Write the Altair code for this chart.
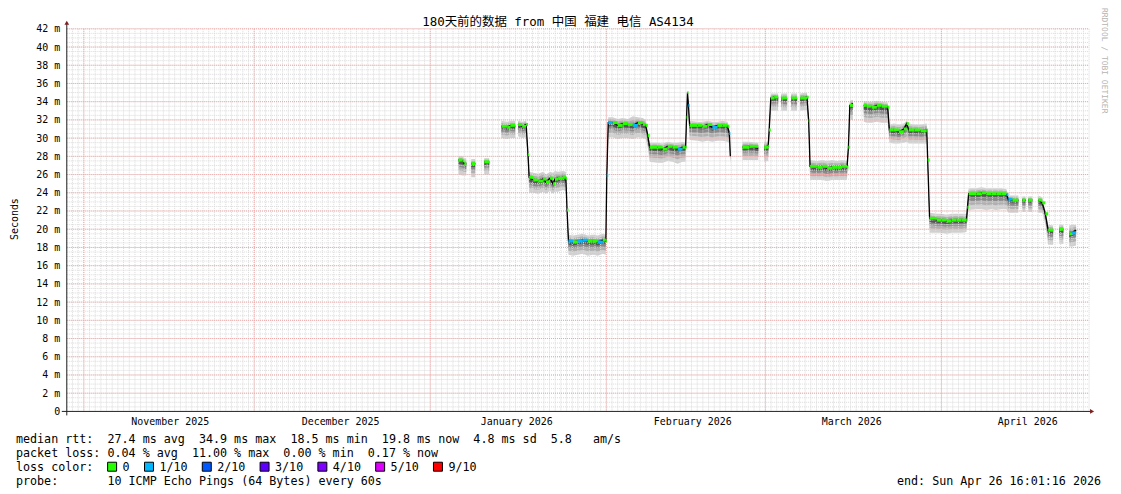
import altair as alt
import pandas as pd

MONO = "DejaVu Sans Mono"
TITLE_FONT = "DejaVu Sans Mono, Noto Sans CJK SC"

# ---------------- texts ----------------
title_text = "180天前的数据 from 中国 福建 电信 AS4134"
y_title = "Seconds"
credit = "RRDTOOL / TOBI OETIKER"
stats_lines = [
    "median rtt:  27.4 ms avg  34.9 ms max  18.5 ms min  19.8 ms now  4.8 ms sd  5.8   am/s",
    "packet loss: 0.04 % avg  11.00 % max  0.00 % min  0.17 % now",
]
loss_title = "loss color:"
probe_line = "probe:       10 ICMP Echo Pings (64 Bytes) every 60s"
end_line = "end: Sun Apr 26 16:01:16 2026"

loss_labels = ["0", "1/10", "2/10", "3/10", "4/10", "5/10", "9/10"]
loss_colors = ["#26ff00", "#00b8ff", "#0059ff", "#5e00ff", "#7e00ff", "#dd00ff", "#ff0000"]

y_ticks = list(range(0, 43, 2))
month_label_months = [(2025, 11), (2025, 12), (2026, 1), (2026, 2), (2026, 3), (2026, 4)]

# ---------------- series ----------------
times = [
    "2026-01-05T23", "2026-01-06T16", "2026-01-07T00", "2026-01-07T08",
    "2026-01-08T05", "2026-01-08T22",
    "2026-01-10T12", "2026-01-11T09",
    "2026-01-13T12", "2026-01-14T13", "2026-01-15T02", "2026-01-15T23",
    "2026-01-16T11", "2026-01-17T04", "2026-01-17T21", "2026-01-18T05", "2026-01-18T10",
    "2026-01-19T03", "2026-01-20T00", "2026-01-20T21", "2026-01-21T09", "2026-01-22T02",
    "2026-01-22T15", "2026-01-22T23", "2026-01-23T12", "2026-01-24T09", "2026-01-24T21",
    "2026-01-25T02", "2026-01-25T08", "2026-01-26T03", "2026-01-27T00", "2026-01-27T21",
    "2026-01-28T18", "2026-01-29T15", "2026-01-30T12", "2026-01-31T09", "2026-01-31T22",
    "2026-02-01T02", "2026-02-01T08", "2026-02-02T03", "2026-02-03T00", "2026-02-03T21",
    "2026-02-04T19", "2026-02-05T16", "2026-02-06T13", "2026-02-07T10", "2026-02-07T22",
    "2026-02-08T07", "2026-02-08T15", "2026-02-10T01", "2026-02-10T22", "2026-02-11T19",
    "2026-02-12T16", "2026-02-13T13", "2026-02-14T10", "2026-02-14T23", "2026-02-15T03",
    "2026-02-15T07", "2026-02-15T11", "2026-02-15T16", "2026-02-17T01", "2026-02-17T22",
    "2026-02-18T19", "2026-02-19T16", "2026-02-20T13", "2026-02-21T11", "2026-02-22T08",
    "2026-02-22T16", "2026-02-22T20",
    "2026-02-24T23", "2026-02-26T04", "2026-02-27T18",
    "2026-02-28T19", "2026-03-01T12", "2026-03-01T16", "2026-03-01T23", "2026-03-02T13",
    "2026-03-03T06",
    "2026-03-03T19", "2026-03-04T20",
    "2026-03-05T13", "2026-03-06T14",
    "2026-03-07T03", "2026-03-08T08", "2026-03-08T15", "2026-03-08T21", "2026-03-10T03",
    "2026-03-11T00", "2026-03-11T21", "2026-03-12T18", "2026-03-13T15", "2026-03-14T12",
    "2026-03-15T09", "2026-03-15T15", "2026-03-15T21", "2026-03-16T10",
    "2026-03-18T08", "2026-03-18T21", "2026-03-19T18", "2026-03-20T15", "2026-03-21T12",
    "2026-03-22T13", "2026-03-22T20", "2026-03-23T15", "2026-03-24T12", "2026-03-25T09",
    "2026-03-25T21", "2026-03-26T06", "2026-03-27T07", "2026-03-28T08", "2026-03-29T10",
    "2026-03-29T14", "2026-03-29T22", "2026-03-31T04", "2026-04-01T01", "2026-04-01T22",
    "2026-04-02T19", "2026-04-03T16", "2026-04-04T13", "2026-04-05T10", "2026-04-05T14",
    "2026-04-05T19", "2026-04-07T04", "2026-04-08T01", "2026-04-08T22", "2026-04-09T19",
    "2026-04-10T16", "2026-04-11T13", "2026-04-12T11", "2026-04-12T19", "2026-04-13T12",
    "2026-04-14T13",
    "2026-04-15T06", "2026-04-15T19",
    "2026-04-16T07", "2026-04-17T00",
    "2026-04-18T01", "2026-04-18T18", "2026-04-19T07", "2026-04-19T19", "2026-04-20T16",
    "2026-04-21T18", "2026-04-22T11",
    "2026-04-23T12", "2026-04-24T00", "2026-04-24T17",
]

median_ms = [
    27.6, 27.5, 27.2, 27.2,
    27.2, 27.2,
    27.4, 27.4,
    31.3, 31.2, 31.4, 31.3,
    31.5, 31.3, 31.5, 28.2, 25.7,
    25.4, 25.3, 25.5, 25.2, 25.6,
    25.0, 25.5, 25.6, 25.7, 25.6,
    22.1, 18.7, 18.6, 18.7, 18.8,
    18.7, 18.7, 18.6, 18.8, 18.7,
    25.9, 31.7, 31.7, 31.4, 31.6,
    31.5, 31.4, 31.7, 31.5, 31.4,
    30.3, 29.0, 29.0, 28.8, 29.1,
    29.0, 28.8, 29.0, 29.0, 32.3,
    35.0, 33.6, 31.4, 31.4, 31.3,
    31.5, 31.2, 31.4, 31.4, 31.3,
    30.5, 28.0,
    29.0, 29.1, 28.9,
    29.0, 29.1, 30.9, 34.4, 34.5,
    34.4,
    34.4, 34.3,
    34.4, 34.3,
    34.4, 34.5, 31.9, 26.9, 26.8,
    26.9, 26.7, 26.8, 26.8, 26.9,
    26.8, 29.0, 33.6, 33.8,
    33.6, 33.5, 33.4, 33.6, 33.5,
    33.4, 30.9, 30.9, 30.7, 31.0,
    31.6, 30.9, 30.9, 30.8, 30.9,
    27.6, 21.2, 21.0, 21.0, 20.9,
    21.0, 21.0, 21.0, 21.0, 22.4,
    23.9, 23.9, 24.0, 23.9, 23.9,
    23.9, 23.9, 23.8, 23.3, 23.2,
    23.2,
    23.2, 23.2,
    23.2, 23.2,
    23.2, 22.9, 21.7, 19.9, 19.9,
    20.0, 20.0,
    19.5, 19.6, 19.9,
]

smoke_lo = [
    26.0, 25.9, 25.9, 25.9,
    25.7, 25.7,
    26.0, 26.0,
    30.0, 29.9, 30.0, 30.0,
    30.2, 30.0, 30.1, 27.0, 24.0,
    24.0, 23.9, 24.1, 23.9, 24.2,
    23.9, 24.1, 24.1, 24.3, 24.2,
    21.0, 17.2, 17.1, 17.2, 17.3,
    17.1, 17.2, 17.1, 17.3, 17.2,
    25.0, 30.1, 30.1, 29.9, 30.0,
    30.0, 29.9, 30.1, 30.0, 29.9,
    29.0, 27.4, 27.3, 27.3, 27.5,
    27.4, 27.2, 27.4, 27.4, 31.5,
    34.0, 32.5, 29.8, 29.7, 29.6,
    29.7, 29.6, 29.7, 29.7, 29.6,
    29.4, 27.0,
    27.6, 27.6, 27.6,
    27.4, 27.5, 29.5, 33.0, 33.0,
    33.0,
    33.0, 33.0,
    33.0, 33.0,
    33.0, 33.1, 30.8, 25.4, 25.4,
    25.4, 25.3, 25.4, 25.4, 25.4,
    25.4, 28.2, 32.0, 32.0,
    31.8, 31.7, 31.7, 31.8, 31.7,
    31.7, 29.5, 29.4, 29.4, 29.5,
    29.6, 29.4, 29.4, 29.4, 29.4,
    26.5, 19.6, 19.6, 19.6, 19.5,
    19.6, 19.6, 19.6, 19.7, 21.5,
    22.1, 22.2, 22.2, 22.1, 22.2,
    22.1, 22.2, 22.2, 21.8, 21.8,
    21.8,
    21.9, 21.9,
    21.9, 21.9,
    21.8, 21.8, 20.6, 18.3, 18.3,
    18.4, 18.4,
    18.1, 18.1, 18.2,
]

smoke_hi = [
    28.0, 28.0, 27.8, 27.8,
    27.7, 27.7,
    27.8, 27.8,
    31.9, 31.8, 31.9, 31.9,
    31.9, 31.8, 31.9, 28.6, 26.3,
    26.2, 26.1, 26.3, 26.0, 26.3,
    26.2, 26.4, 26.3, 26.4, 26.3,
    22.5, 19.4, 19.3, 19.4, 19.5,
    19.3, 19.4, 19.3, 19.5, 19.4,
    26.5, 32.3, 32.3, 32.1, 32.2,
    32.1, 32.4, 32.3, 32.2, 32.0,
    30.8, 29.5, 29.5, 29.4, 29.6,
    29.5, 29.5, 29.6, 29.5, 32.8,
    35.3, 34.0, 31.9, 31.8, 31.8,
    31.9, 31.8, 31.8, 31.9, 31.8,
    31.0, 28.9,
    29.6, 29.6, 29.5,
    29.6, 29.6, 31.3, 34.9, 34.9,
    34.9,
    34.9, 34.9,
    34.9, 34.9,
    34.9, 35.0, 32.4, 27.6, 27.5,
    27.6, 27.5, 27.6, 27.5, 27.6,
    27.5, 29.5, 34.1, 34.2,
    34.1, 34.0, 34.0, 34.1, 34.0,
    33.9, 31.5, 31.6, 31.5, 31.6,
    31.9, 31.6, 31.5, 31.5, 31.6,
    28.0, 21.8, 21.7, 21.7, 21.6,
    21.7, 21.7, 21.7, 21.7, 22.8,
    24.5, 24.5, 24.6, 24.5, 24.5,
    24.5, 24.5, 24.4, 23.7, 23.7,
    23.7,
    23.6, 23.6,
    23.6, 23.6,
    23.7, 23.5, 22.1, 20.5, 20.4,
    20.5, 20.5,
    20.4, 20.5, 20.5,
]

# first sample of every unbroken run of data (gaps in between)
segment_starts = [
    "2026-01-08T05", "2026-01-10T12", "2026-01-13T12", "2026-01-16T11",
    "2026-02-24T23", "2026-02-28T19", "2026-03-03T19", "2026-03-05T13",
    "2026-03-07T03", "2026-03-18T08", "2026-04-15T06", "2026-04-16T07",
    "2026-04-18T01", "2026-04-21T18", "2026-04-23T12",
]

# samples drawn in the 1/10 loss colour
loss_1_10_times = [
    "2026-01-25T08", "2026-01-27T00", "2026-01-27T21", "2026-01-30T12",
    "2026-02-01T02", "2026-02-01T08", "2026-02-05T16", "2026-02-13T13",
    "2026-02-15T11", "2026-02-19T16", "2026-02-22T16", "2026-04-12T11",
    "2026-04-12T19", "2026-04-24T00",
]

# ---------------- frames ----------------
df = pd.DataFrame({
    "t": [s + ":00:00Z" for s in times],
    "med": median_ms,
    "lo": smoke_lo,
    "hi": smoke_hi,
})
df["seg"] = [1 if s in segment_starts else 0 for s in times]
df["seg"] = df["seg"].cumsum()
df["loss"] = ["1/10" if s in loss_1_10_times else "0" for s in times]

iso = "%Y-%m-%dT%H:%M:%SZ"
days_df = pd.DataFrame({"t": pd.date_range("2025-10-29", "2026-04-27", freq="D").strftime(iso)})
months_df = pd.DataFrame({"t": pd.date_range("2025-11-01", "2026-04-01", freq="MS").strftime(iso)})
hmin_df = pd.DataFrame({"v": [i * 0.5 for i in range(1, 85)]})
hmaj_df = pd.DataFrame({"v": y_ticks[1:]})

# ---------------- layout ----------------
W, H = 1026, 384
PAD = {"left": 59, "top": 20, "right": 24, "bottom": 80}
OX, OY = 8 + PAD["left"], 8 + PAD["top"]


def px(x):
    return x - OX


def py(y):
    return y - OY


FS = 11.75
NBSP = "\u00a0"

xs = alt.Scale(
    type="utc",
    domain=[
        alt.DateTime(year=2025, month=10, date=29, utc=True),
        alt.DateTime(year=2026, month=4, date=27, utc=True),
    ],
)
ys = alt.Scale(domain=[0, 42], nice=False, zero=True)

xaxis = alt.Axis(
    values=[alt.DateTime(year=y, month=m, date=16, hours=3, utc=True) for (y, m) in month_label_months],
    labelExpr="utcFormat(datum.value, '%B %Y')",
    ticks=False, domain=False, grid=False,
    labelFont=MONO, labelFontSize=10, labelColor="#000000",
    labelPadding=5, labelFlush=False, labelOverlap=False, title=None,
)
yaxis = alt.Axis(
    values=y_ticks,
    labelExpr="datum.value == 0 ? '0" + NBSP + NBSP + "' : datum.value + ' m'",
    ticks=False, domain=False, grid=False,
    labelFont=MONO, labelFontSize=10, labelColor="#000000",
    labelPadding=7, title=None,
)


def X(f):
    return alt.X(f, type="temporal", scale=xs, axis=xaxis)


def Y(f):
    return alt.Y(f, type="quantitative", scale=ys, axis=yaxis)


layers = []

# smoke (ping spread), light to dark
smoke_base = alt.Chart(df).transform_calculate(
    b_lo="datum.lo + 0.3*(datum.med-datum.lo)",
    b_hi="datum.med + 0.6*(datum.hi-datum.med)",
    c_lo="datum.lo + 0.55*(datum.med-datum.lo)",
    c_hi="datum.med + 0.3*(datum.hi-datum.med)",
    d_lo="datum.lo + 0.75*(datum.med-datum.lo)",
)
for lo_f, hi_f, col in [("lo", "hi", "#d0d0d0"), ("b_lo", "b_hi", "#b0b0b0"),
                        ("c_lo", "c_hi", "#8a8a8a"), ("d_lo", "med", "#555555")]:
    layers.append(
        smoke_base.mark_area(color=col, opacity=1).encode(
            x=X("t"), y=Y(lo_f), y2=alt.Y2(hi_f), detail="seg:N"
        )
    )

# grid
GRID = "#dadada"
MGRID = "#f2a4a4"
layers.append(alt.Chart(days_df).mark_rule(color=GRID, strokeWidth=1, strokeDash=[1, 1]).encode(
    x=X("t"), y=alt.value(0), y2=alt.value(H)))
layers.append(alt.Chart(hmin_df).mark_rule(color=GRID, strokeWidth=1, strokeDash=[1, 1]).encode(
    y=Y("v"), x=alt.value(0), x2=alt.value(W)))
layers.append(alt.Chart(months_df).mark_rule(color=MGRID, strokeWidth=1, strokeDash=[1, 1]).encode(
    x=X("t"), y=alt.value(0), y2=alt.value(H)))
layers.append(alt.Chart(hmaj_df).mark_rule(color=MGRID, strokeWidth=1, strokeDash=[1, 1]).encode(
    y=Y("v"), x=alt.value(0), x2=alt.value(W)))

# median line (connecting) and loss-coloured median steps
layers.append(alt.Chart(df).mark_line(color="#000000", strokeWidth=1.3).encode(
    x=X("t"), y=Y("med"), detail="seg:N"))
layers.append(
    alt.Chart(df)
    .transform_window(tn="lead(t)", groupby=["seg"], sort=[alt.SortField("t", order="ascending")])
    .transform_filter("datum.tn != null")
    .mark_rule(strokeWidth=3)
    .encode(
        x=X("t"), x2=alt.X2("tn"), y=Y("med"),
        color=alt.Color("loss:N", scale=alt.Scale(domain=loss_labels, range=loss_colors), legend=None),
    )
)

# axes lines and arrows
one = pd.DataFrame({"k": [0]})
AXIS_C = "#1f1f1f"
ARROW_C = "#801f1f"
layers.append(alt.Chart(one).mark_rule(color=AXIS_C, strokeWidth=1).encode(
    x=alt.value(0), y=alt.value(-6), y2=alt.value(H + 4)))
layers.append(alt.Chart(one).mark_rule(color=AXIS_C, strokeWidth=1).encode(
    y=alt.value(H), x=alt.value(-5), x2=alt.value(W + 2)))
layers.append(alt.Chart(one).mark_point(shape="triangle-up", filled=True, color=ARROW_C, size=22, opacity=1).encode(
    x=alt.value(0), y=alt.value(-6)))
layers.append(alt.Chart(one).mark_point(shape="triangle-right", filled=True, color=ARROW_C, size=22, opacity=1).encode(
    x=alt.value(W + 3), y=alt.value(H)))


def text_layer(txt, x, y, size=FS, align="left", angle=None, color="#000000", font=MONO):
    kw = dict(align=align, baseline="middle", font=font, fontSize=size, color=color)
    if angle is not None:
        kw["angle"] = angle
    return alt.Chart(pd.DataFrame({"txt": [txt.replace(" ", NBSP)]})).mark_text(**kw).encode(
        text="txt:N", x=alt.value(px(x)), y=alt.value(py(y)))


LY = [439.5, 453.5, 467.5, 481.5]  # legend rows (page y)
layers.append(text_layer(title_text, 560, 21, size=12.5, align="center", font=TITLE_FONT))
layers.append(text_layer(y_title, 15, 219, size=10, align="center", angle=270))
layers.append(text_layer(credit, 1108, 60, size=8, align="center", angle=90, color="#b4b4b4"))
layers.append(text_layer(stats_lines[0], 16, LY[0]))
layers.append(text_layer(stats_lines[1], 16, LY[1]))
layers.append(text_layer(loss_title, 16, LY[2]))
layers.append(text_layer(probe_line, 16, LY[3]))
layers.append(text_layer(end_line, 1105, LY[3], align="right"))

# loss colour legend boxes
lx = 108
for lab, col in zip(loss_labels, loss_colors):
    layers.append(
        alt.Chart(pd.DataFrame({"lab": [lab]})).mark_rect(fill=col, stroke="#000000", strokeWidth=1).encode(
            x=alt.value(px(lx)), x2=alt.value(px(lx + 9)),
            y=alt.value(py(LY[2]) - 4.5), y2=alt.value(py(LY[2]) + 4.5))
    )
    layers.append(text_layer(lab, lx + 15, LY[2]))
    lx += 9 + 6 + 7 * len(lab) + 15

chart = (
    alt.layer(*layers)
    .properties(width=W, height=H, autosize=alt.AutoSizeParams(type="none"), padding=PAD,
                background="#ffffff")
    .configure_view(stroke=None)
)

chart.save("out.html", embed_options={"renderer": "svg", "actions": False})
